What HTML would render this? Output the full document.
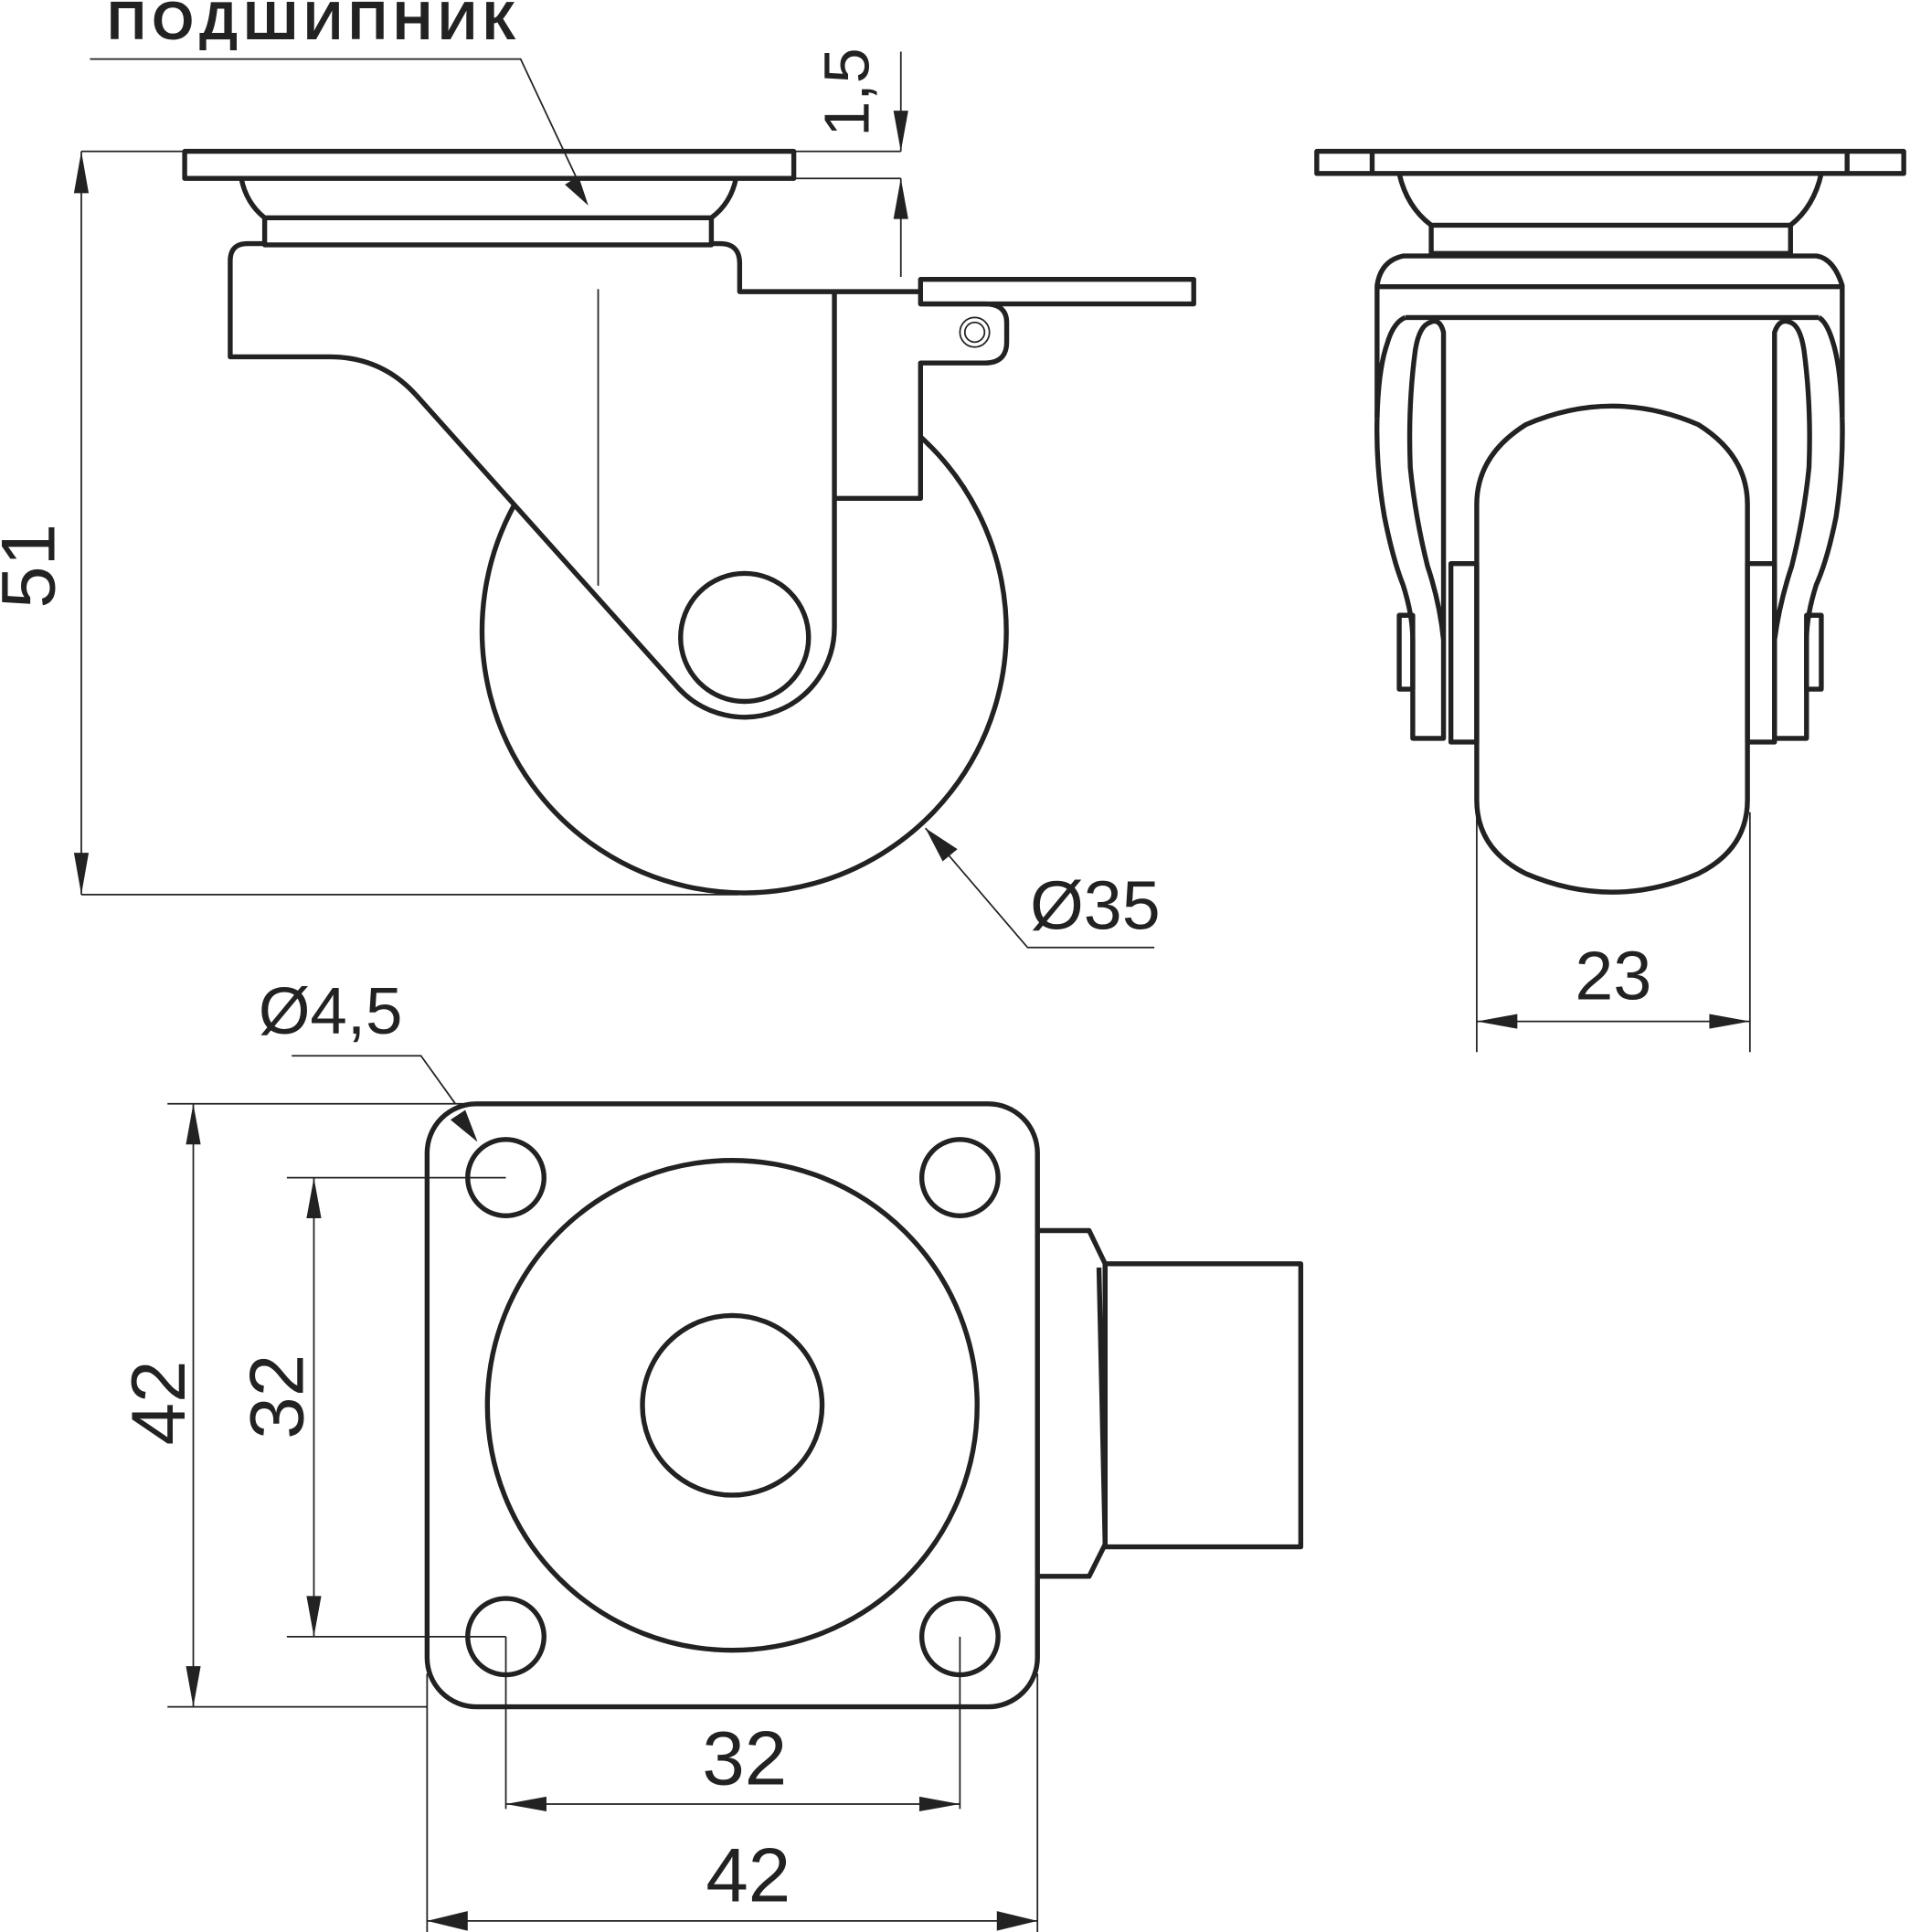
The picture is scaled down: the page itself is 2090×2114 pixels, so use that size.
<!DOCTYPE html>
<html><head><meta charset="utf-8"><style>
html,body{margin:0;padding:0;background:#fff;}
svg{display:block}
text{font-family:"Liberation Sans",sans-serif;fill:#222;}
</style></head><body>
<svg width="2090" height="2114" viewBox="0 0 1552 1570" xmlns="http://www.w3.org/2000/svg">
<g fill="none" stroke="#222" stroke-width="4" stroke-linejoin="round">
<rect x="150" y="123" width="495" height="22"/>
<path d="M196,145 Q200,165 215,177 M598,145 Q594,165 578,177"/>
<rect x="215" y="177" width="363" height="22"/>
<path d="M338,321 Q310,290 268,290 L187,290 L187,212 Q187,198 201,198 L215,198 M578,198 L585,198 Q601,198 601,214 L601,237 L748,237"/>
<path d="M678,237 L678,510 A73,73 0 0 1 552,560 L338,321"/>
<circle cx="605" cy="518" r="52"/>
<path d="M418,410 A213,213 0 1 0 748,355"/>
<rect x="748" y="227" width="222" height="20"/>
<path d="M748,247 L800,247 Q818,247 818,262 L818,278 Q818,295 800,295 L748,295 L748,405 L678,405"/>
<rect x="1070" y="123" width="477" height="18"/>
<path d="M1115,123 L1115,141 M1501,123 L1501,141"/>
<path d="M1137,141 Q1143,168 1163,183 M1480,141 Q1474,168 1455,183"/>
<rect x="1163" y="183" width="292" height="23"/>
<path d="M1119,340 L1119,232 Q1122,212 1140,208 L1476,208 Q1490,210 1497,232 L1497,340"/>
<path d="M1119,233 L1497,233 M1142,258 L1478,258"/>
<path d="M1119,340 Q1118,380 1125,420 Q1132,455 1140,475 Q1148,500 1148,520 L1148,600 L1173,600 L1173,520 Q1170,490 1160,460 Q1150,420 1146,380 Q1144,330 1150,285 Q1153,265 1162,262 Q1170,258 1173,270 L1173,600"/>
<path d="M1119,340 Q1120,300 1127,280 Q1132,262 1142,258"/>
<path d="M1497,340 Q1498,380 1492,420 Q1485,455 1476,475 Q1468,500 1468,520 L1468,600 L1442,600 L1442,520 Q1446,490 1456,460 Q1466,420 1470,380 Q1472,330 1466,285 Q1463,265 1455,262 Q1446,258 1442,270 L1442,600"/>
<path d="M1497,340 Q1496,300 1490,280 Q1485,262 1478,258"/>
<path d="M1200,410 Q1200,370 1240,345 Q1275,330 1310,330 Q1345,330 1380,345 Q1420,370 1420,410 L1420,650 Q1420,690 1380,710 Q1345,725 1310,725 Q1275,725 1240,710 Q1200,690 1200,650 Z"/>
<rect x="1179" y="458" width="21" height="145"/>
<rect x="1420" y="458" width="22" height="145"/>
<rect x="1137" y="500" width="11" height="60"/>
<rect x="1468" y="500" width="12" height="60"/>
<rect x="347" y="897" width="496" height="490" rx="40"/>
<circle cx="411" cy="957" r="31"/><circle cx="780" cy="957" r="31"/>
<circle cx="411" cy="1330" r="31"/><circle cx="780" cy="1330" r="31"/>
<circle cx="595" cy="1142" r="199"/>
<circle cx="595" cy="1142" r="73"/>
<path d="M843,1000 L885,1000 L898,1027 L898,1255 L885,1281 L843,1281 M893,1030 L898,1255"/>
<rect x="898" y="1027" width="159" height="230"/>
</g>
<g fill="none" stroke="#222" stroke-width="1.3">
<circle cx="792" cy="270" r="12"/><circle cx="792" cy="270" r="8"/>
<path d="M486,235 L486,476"/>
<path d="M73,48 L423,48 L470,148"/>
<path d="M66,123 L66,727 M66,123 L150,123 M66,727 L600,727"/>
<path d="M645,123 L732,123 M645,145 L732,145 M732,42 L732,123 M732,145 L732,225"/>
<path d="M752,673 L835,770 L938,770"/>
<path d="M1200,660 L1200,855 M1422,660 L1422,855 M1200,830 L1422,830"/>
<path d="M136,897 L800,897 M136,1387 L347,1387 M157,897 L157,1387"/>
<path d="M233,957 L411,957 M233,1330 L411,1330 M255,957 L255,1330"/>
<path d="M411,1330 L411,1470 M780,1330 L780,1470 M411,1466 L780,1466"/>
<path d="M347,1360 L347,1570 M843,1360 L843,1570 M347,1561 L843,1561"/>
<path d="M237,858 L342,858 L370,897"/>
</g>
<g fill="#222" stroke="none">
<polygon points="478,167 459,150 470,143"/>
<polygon points="66,123 60,157 72,157"/>
<polygon points="66,727 60,693 72,693"/>
<polygon points="732,123 726,90 738,90"/>
<polygon points="732,145 726,178 738,178"/>
<polygon points="752,673 778,690 766,700"/>
<polygon points="1200,830 1233,824 1233,836"/>
<polygon points="1422,830 1389,824 1389,836"/>
<polygon points="157,897 151,930 163,930"/>
<polygon points="157,1387 151,1354 163,1354"/>
<polygon points="255,957 249,990 261,990"/>
<polygon points="255,1330 249,1297 261,1297"/>
<polygon points="411,1466 444,1460 444,1472"/>
<polygon points="780,1466 747,1460 747,1472"/>
<polygon points="347,1561 380,1553 380,1569"/>
<polygon points="843,1561 810,1553 810,1569"/>
<polygon points="388,928 366,910 378,902"/>
</g>
<g>
<text x="87" y="32" font-size="44" font-weight="bold" textLength="332" lengthAdjust="spacing">ПОДШИПНИК</text>
<text transform="translate(44,460) rotate(-90)" font-size="62" text-anchor="middle">51</text>
<text transform="translate(706,75) rotate(-90)" font-size="52" text-anchor="middle">1,5</text>
<text x="837" y="755" font-size="56">Ø35</text>
<text x="1311" y="812" font-size="56" text-anchor="middle">23</text>
<text x="210" y="840" font-size="54">Ø4,5</text>
<text transform="translate(150,1140) rotate(-90)" font-size="62" text-anchor="middle">42</text>
<text transform="translate(246,1135) rotate(-90)" font-size="62" text-anchor="middle">32</text>
<text x="605" y="1450" font-size="62" text-anchor="middle">32</text>
<text x="608" y="1545" font-size="62" text-anchor="middle">42</text>
</g>
</svg>
</body></html>
